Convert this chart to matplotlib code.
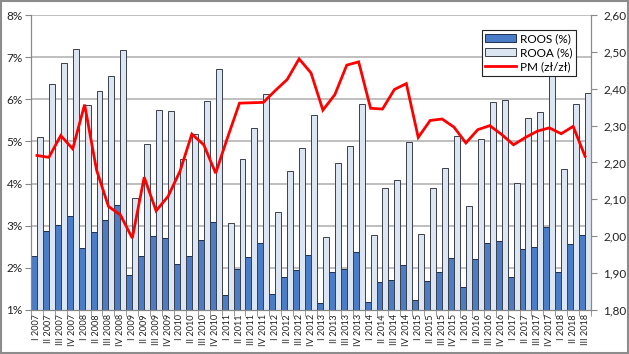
import matplotlib
matplotlib.use("Agg")
import matplotlib.pyplot as plt
from matplotlib.patches import Rectangle
from matplotlib.lines import Line2D
import numpy as np

plt.rcParams['font.family'] = ['Lato', 'DejaVu Sans']

years = list(range(2007, 2019))
quarters = ["I", "II", "III", "IV"]
labels = [f"{q} {y}" for y in years for q in quarters][:47]

roos = [2.29, 2.88, 3.02, 3.24, 2.48, 2.86, 3.14, 3.48,
        1.83, 2.29, 2.76, 2.71, 2.10, 2.29, 2.67, 3.10,
        1.35, 1.97, 2.25, 2.60, 1.38, 1.78, 1.95, 2.31,
        1.17, 1.90, 1.98, 2.38, 1.19, 1.67, 1.71, 2.07,
        1.24, 1.68, 1.89, 2.24, 1.54, 2.21, 2.58, 2.64,
        1.79, 2.45, 2.50, 2.98, 1.91, 2.57, 2.79]

rooa = [5.10, 6.37, 6.85, 7.19, 5.86, 6.20, 6.56, 7.16,
        3.65, 4.93, 5.75, 5.72, 4.58, 5.18, 5.96, 6.71,
        3.06, 4.58, 5.31, 6.12, 3.32, 4.31, 4.84, 5.62,
        2.73, 4.50, 4.88, 5.88, 2.77, 3.89, 4.08, 4.99,
        2.80, 3.89, 4.36, 5.12, 3.47, 5.05, 5.94, 5.99,
        4.02, 5.55, 5.71, 6.95, 4.34, 5.88, 6.15]

pm = [2.219, 2.214, 2.273, 2.237, 2.357, 2.180, 2.081, 2.058,
      1.995, 2.160, 2.069, 2.108, 2.176, 2.277, 2.248, 2.171,
      2.268, 2.361, 2.362, 2.363, 2.395, 2.425, 2.481, 2.443,
      2.342, 2.384, 2.464, 2.473, 2.347, 2.345, 2.398, 2.414,
      2.268, 2.314, 2.318, 2.296, 2.253, 2.289, 2.300, 2.276,
      2.248, 2.268, 2.285, 2.294, 2.278, 2.298, 2.217]

dark = "#4A7CC7"
light = "#DCE5F2"
edge = "#1F2F4F"

fig = plt.figure(figsize=(6.29, 3.54), dpi=100)
ax = fig.add_axes([31/629, 1-310/354, (591-31)/629, (310-15)/354])
x = np.arange(len(labels))

ax.bar(x - 0.25, roos, width=0.5, bottom=0, color=dark, edgecolor=edge, linewidth=0.7, zorder=2)
ax.bar(x + 0.25, rooa, width=0.5, bottom=0, color=light, edgecolor="#3A3F4A", linewidth=0.7, zorder=2)

ax.set_ylim(1, 8)
ax.set_xlim(-0.5, len(labels) - 0.5)
ax.set_yticks(range(1, 9))
ax.set_yticklabels([f"{v}%" for v in range(1, 9)], fontsize=8.5, color="#222222")
ax.yaxis.grid(True, color="#B4B4B4", linewidth=1.2, zorder=0)
ax.set_axisbelow(True)
ax.set_xticks(x)
ax.set_xticklabels(labels, rotation=90, fontsize=6.6, color="#222222")
ax.tick_params(axis='x', length=0, pad=3)
ax.set_xticks(np.arange(-0.5, len(labels), 1), minor=True)
ax.tick_params(axis='x', which='minor', length=4, color="#888888")
ax.tick_params(axis='y', length=4, color="#888888", pad=2)
for s in ["top"]:
    ax.spines[s].set_visible(False)
for s in ["left", "bottom", "right"]:
    ax.spines[s].set_color("#888888")
    ax.spines[s].set_linewidth(0.8)

ax2 = ax.twinx()
ax2.plot(x, pm, color="#FF0000", linewidth=2.0, zorder=5, solid_joinstyle='miter')
ax2.set_ylim(1.8, 2.6)
yt = np.round(np.arange(1.8, 2.61, 0.1), 2)
ax2.set_yticks(yt)
ax2.set_yticklabels([f"{v:.2f}".replace(".", ",") for v in yt], fontsize=8.5, color="#222222")
ax2.tick_params(axis='y', length=4, color="#888888", pad=5)
ax2.spines["top"].set_visible(False)
for s in ["left", "bottom", "right"]:
    ax2.spines[s].set_color("#888888")
    ax2.spines[s].set_linewidth(0.8)

handles = [Rectangle((0, 0), 1, 1, facecolor=dark, edgecolor=edge, linewidth=0.7),
           Rectangle((0, 0), 1, 1, facecolor=light, edgecolor="#3A3F4A", linewidth=0.7),
           Line2D([0], [0], color="#FF0000", linewidth=2.0)]
leg = ax2.legend(handles, ["ROOS (%)", "ROOA (%)", "PM (zł/zł)"],
                 loc="upper right", bbox_to_anchor=(0.983, 0.97),
                 fontsize=8.5, frameon=True, fancybox=False, framealpha=1,
                 edgecolor="#222222", borderpad=0.3, labelspacing=0.25,
                 handlelength=2.6, handletextpad=0.3, handleheight=0.6)
leg.get_frame().set_linewidth(0.8)
leg.set_zorder(10)

fig.patches.append(Rectangle((0.002, 0.003), 0.996, 0.994, transform=fig.transFigure,
                             fill=False, edgecolor="#8C8C8C", linewidth=1.5))

fig.savefig("out.png", dpi=100)
